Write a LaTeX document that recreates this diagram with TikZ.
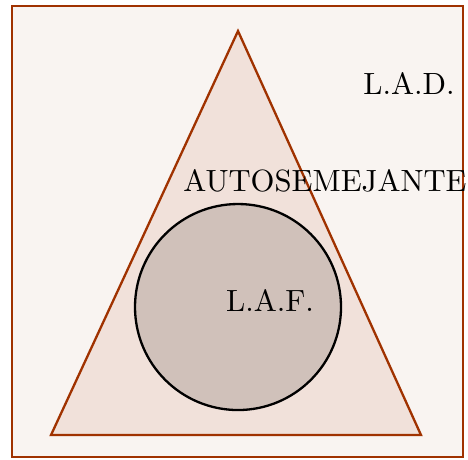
\documentclass[tikz,border=0pt]{standalone}
\definecolor{bord}{RGB}{160,50,0}
\definecolor{rfill}{RGB}{249,244,241}
\definecolor{tfill}{RGB}{241,225,218}
\definecolor{cfill}{RGB}{208,193,186}
\begin{document}
\begin{tikzpicture}[x=0.3256pt,y=-0.3256pt,
  lab/.style={inner sep=0pt,font=\normalsize}]
\useasboundingbox (0,0) rectangle (468,459);
\draw[bord,line width=0.85pt,fill=rfill] (12,6) rectangle (463,457);
\draw[bord,line width=0.75pt,fill=tfill] (238,31) -- (421,435) -- (51,435) -- cycle;
\draw[black,line width=0.75pt,fill=cfill] (238,307) circle (103);
\node[lab] (lad) at (409,83) {L.A.D.};
\node[lab] (auto) at (325,181) {AUTOSEMEJANTE};
\node[lab] (laf) at (270,300) {L.A.F.};
\end{tikzpicture}
\end{document}
